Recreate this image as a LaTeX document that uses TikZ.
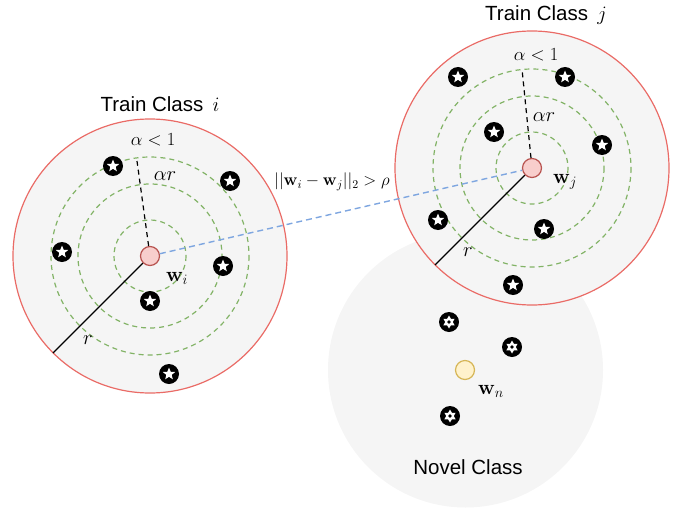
\RequirePackage{fix-cm}
\documentclass[tikz,border=0pt]{standalone}
\usepackage[no-math]{fontspec}
\setmainfont{Liberation Sans}
\usetikzlibrary{shapes.geometric}
\definecolor{redline}{HTML}{EA6B66}
\definecolor{classfill}{HTML}{F5F5F5}
\definecolor{ringgreen}{HTML}{82B366}
\definecolor{linkblue}{HTML}{7EA6E0}
\definecolor{wfill}{HTML}{F8CECC}
\definecolor{wdraw}{HTML}{B85450}
\definecolor{nfill}{HTML}{FFF2CC}
\definecolor{ndraw}{HTML}{D6B656}
\tikzset{
  classcirc/.style={circle, minimum size=274pt, inner sep=0pt, fill=classfill, draw=redline, line width=1.2pt},
  novelcirc/.style={circle, minimum size=275pt, inner sep=0pt, fill=classfill},
  ring/.style={draw=ringgreen, line width=1.2pt, dash pattern=on 5pt off 4pt},
  wnode/.style={circle, minimum size=19pt, inner sep=0pt, fill=wfill, draw=wdraw, line width=1.2pt},
  wnovel/.style={circle, minimum size=19pt, inner sep=0pt, fill=nfill, draw=ndraw, line width=1.2pt},
  starpt/.style={circle, fill=black, minimum size=20pt, inner sep=0pt, path picture={
    \fill[white, shift={(path picture bounding box.center)}]
      (90:6.5pt) -- (126:2.8pt) -- (162:6.5pt) -- (198:2.8pt) -- (234:6.5pt) --
      (270:2.8pt) -- (306:6.5pt) -- (342:2.8pt) -- (18:6.5pt) -- (54:2.8pt) -- cycle;
  }},
  hexpt/.style={circle, fill=black, minimum size=20pt, inner sep=0pt, path picture={
    \begin{scope}[shift={(path picture bounding box.center)}]
      \fill[white] (90:6.5pt) -- (210:6.5pt) -- (330:6.5pt) -- cycle;
      \fill[white] (270:6.5pt) -- (30:6.5pt) -- (150:6.5pt) -- cycle;
      \fill[black] (0pt,0pt) circle (1.8pt);
    \end{scope}
  }},
  titletext/.style={font=\fontsize{20.5}{24}\selectfont, inner sep=0pt},
  mathlbl/.style={font=\fontsize{18.5}{22}\selectfont, inner sep=0pt},
  biglbl/.style={font=\fontsize{20.5}{24}\selectfont, inner sep=0pt},
  radline/.style={draw=black, line width=1.2pt},
  alphaline/.style={draw=black, line width=1.2pt, dash pattern=on 5pt off 4pt},
  linkline/.style={draw=linkblue, line width=1.4pt, dash pattern=on 6pt off 4pt},
}
\begin{document}
\begin{tikzpicture}[x=1pt, y=-1pt]
\useasboundingbox (0,0) rectangle (684,508);

% class regions
\node[novelcirc] (cn) at (465.5,370) {};
\node[classcirc] (ci) at (150,256) {};
\node[classcirc] (cj) at (532,168) {};

% dashed rings
\foreach \rr in {36,72,99} {
  \draw[ring] (ci.center) circle (\rr);
  \draw[ring] (cj.center) circle (\rr);
}

% class centres
\node[wnode] (wi) at (150,256) {};
\node[wnode] (wj) at (532,168) {};
\node[wnovel] (wn) at (465,370) {};

% free ends of radius lines
\coordinate (ai) at (137,161);
\coordinate (ri) at (53,353);
\coordinate (aj) at (522,69);
\coordinate (rj) at (435,265);

\draw[linkline] (wi) -- (wj);
\draw[alphaline] (wi) -- (ai);
\draw[radline] (wi) -- (ri);
\draw[alphaline] (wj) -- (aj);
\draw[radline] (wj) -- (rj);

% samples class i
\node[starpt] (si1) at (113,166) {};
\node[starpt] (si2) at (230,181) {};
\node[starpt] (si3) at (62,252) {};
\node[starpt] (si4) at (223,266) {};
\node[starpt] (si5) at (150,301) {};
\node[starpt] (si6) at (169,374) {};

% samples class j
\node[starpt] (sj1) at (458,77) {};
\node[starpt] (sj2) at (565,77) {};
\node[starpt] (sj3) at (494,132) {};
\node[starpt] (sj4) at (602,145) {};
\node[starpt] (sj5) at (438,220) {};
\node[starpt] (sj6) at (544,229) {};
\node[starpt] (sj7) at (513,285) {};

% novel samples
\node[hexpt] (sn1) at (449,322) {};
\node[hexpt] (sn2) at (512,347) {};
\node[hexpt] (sn3) at (450,416) {};

% titles
\node[titletext] (ti) at (160,104) {Train Class\hspace{0.45em}$i$};
\node[titletext] (tj) at (546,15) {Train Class\hspace{0.45em}$j$};
\node[titletext] (tn) at (468,467) {Novel Class};

% math labels
\node[mathlbl] (ali) at (153,140) {$\alpha<1$};
\node[biglbl] (ari) at (165,176) {$\alpha r$};
\node[biglbl] (wli) at (177,278) {$\mathbf{w}_i$};
\node[biglbl] (rli) at (88,340) {$r$};

\node[mathlbl] (alj) at (536,55) {$\alpha<1$};
\node[biglbl] (arj) at (544,117) {$\alpha r$};
\node[biglbl] (wlj) at (565,182) {$\mathbf{w}_j$};
\node[biglbl] (rlj) at (468,252) {$r$};

\node[biglbl] (wln) at (491,391) {$\mathbf{w}_n$};

\node[font=\fontsize{17}{20}\selectfont, inner sep=0pt] (dist) at (332,182) {$||\mathbf{w}_i-\mathbf{w}_j||_2>\rho$};
\end{tikzpicture}
\end{document}
